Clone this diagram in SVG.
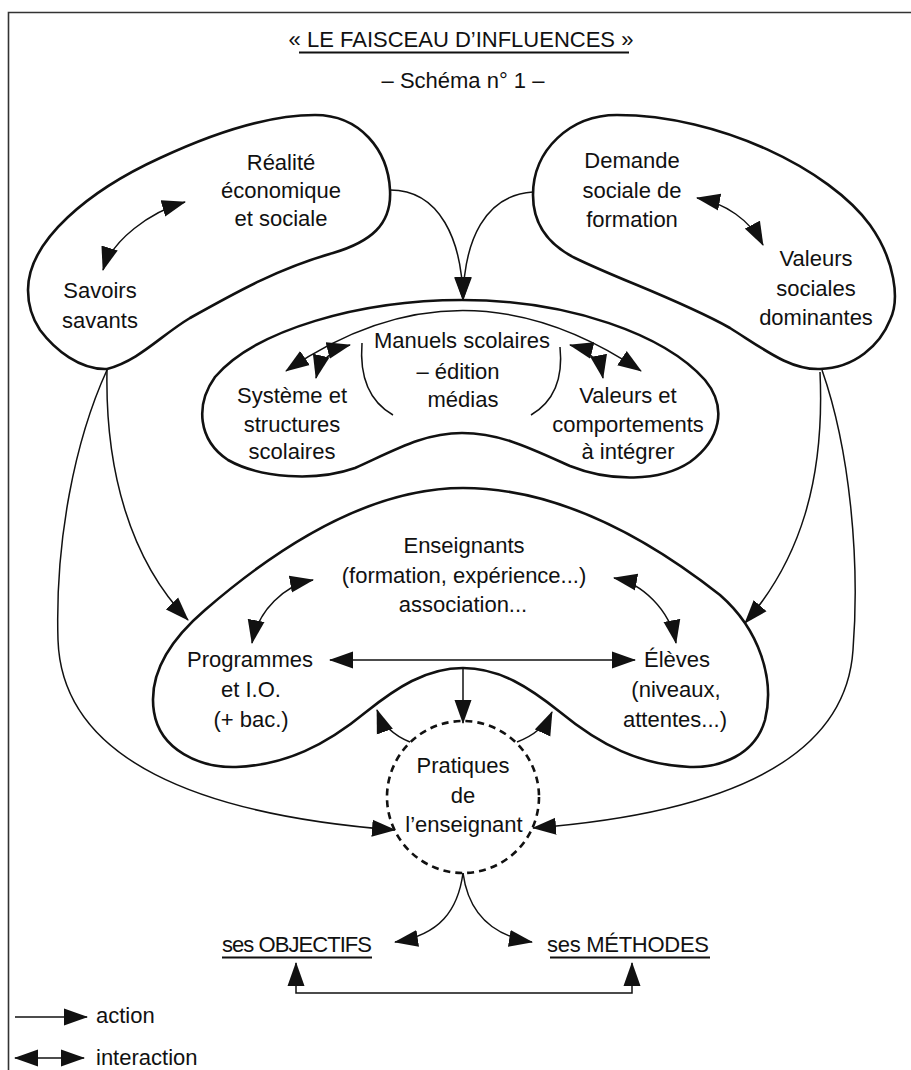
<svg xmlns="http://www.w3.org/2000/svg" width="911" height="1070" viewBox="0 0 911 1070">
<defs>
<marker id="ah" markerUnits="userSpaceOnUse" markerWidth="26" markerHeight="18" refX="23" refY="9" orient="auto-start-reverse" viewBox="0 0 26 18">
<path d="M0,0.5 L24,9 L0,17.5 Z" fill="#111"/>
</marker>
</defs>
<style>
.t{font-family:"Liberation Sans",Arial,sans-serif;font-size:22px;fill:#111;text-anchor:middle}
.blob{fill:none;stroke:#111;stroke-width:2.6}
.c{fill:none;stroke:#111;stroke-width:1.5}
.a{marker-end:url(#ah)}
.i{marker-start:url(#ah);marker-end:url(#ah)}
.ul{stroke:#111;stroke-width:2}
</style>
<rect width="911" height="1070" fill="#fff"/>
<path d="M911,12.5 H8.5 V1070" fill="none" stroke="#333" stroke-width="1.6"/>

<g id="title">
<text class="t" x="461" y="47">« LE FAISCEAU D’INFLUENCES »</text>
<line class="ul" x1="299" y1="52.5" x2="629" y2="52.5"/>
<text class="t" x="463" y="88">– Schéma n° 1 –</text>
</g>

<g id="node-realite">
<path class="blob" d="M28,290 C28,240 90,190 160,158 C220,130 270,115 315,115 C360,115 388,150 390,190 C392,225 370,242 333,253 C280,268 240,290 190,318 C160,336 140,360 107,369 C80,370 55,350 40,330 C32,318 28,303 28,290 Z"/>
<text class="t" x="281" y="170">Réalité</text>
<text class="t" x="281" y="198">économique</text>
<text class="t" x="281" y="226">et sociale</text>
<text class="t" x="100" y="298">Savoirs</text>
<text class="t" x="100" y="328">savants</text>
</g>

<g id="node-demande">
<path class="blob" d="M617,115 C720,115 830,170 870,225 C895,260 900,300 890,320 C880,345 855,368 820,369 C790,370 765,350 730,328 C680,300 620,280 575,258 C545,243 533,220 533,195 C533,150 570,115 617,115 Z"/>
<text class="t" x="632" y="168">Demande</text>
<text class="t" x="632" y="198">sociale de</text>
<text class="t" x="632" y="227">formation</text>
<text class="t" x="816" y="266">Valeurs</text>
<text class="t" x="816" y="296">sociales</text>
<text class="t" x="816" y="325">dominantes</text>
</g>

<g id="node-manuels">
<path class="blob" d="M462,300 C570,300 665,335 705,380 C728,408 720,440 690,462 C660,482 610,482 570,466 C530,448 500,433 462,433 C424,433 395,450 355,468 C315,482 260,478 228,460 C198,440 195,405 215,377 C255,330 360,300 462,300 Z"/>
<text class="t" x="462" y="348">Manuels scolaires</text>
<text class="t" x="458" y="379">– édition</text>
<text class="t" x="463" y="407">médias</text>
<text class="t" x="292" y="403">Système et</text>
<text class="t" x="292" y="432">structures</text>
<text class="t" x="292" y="459">scolaires</text>
<text class="t" x="628" y="403">Valeurs et</text>
<text class="t" x="628" y="432">comportements</text>
<text class="t" x="628" y="459">à intégrer</text>
<path class="c" d="M362,343 Q358,395 393,415"/>
<path class="c" d="M560,347 Q565,395 531,415"/>
</g>

<g id="node-enseignants">
<path class="blob" d="M463,488 C560,488 650,540 720,595 C760,630 775,680 765,720 C755,755 720,768 690,767 C640,765 600,745 560,712 C530,688 500,668 463,668 C426,668 396,688 366,712 C326,745 286,765 236,767 C200,768 160,750 154,712 C148,675 170,640 205,610 C280,545 370,488 463,488 Z"/>
<text class="t" x="464" y="553">Enseignants</text>
<text class="t" x="464" y="583">(formation, expérience...)</text>
<text class="t" x="463" y="612">association...</text>
<text class="t" x="250" y="667">Programmes</text>
<text class="t" x="251" y="697">et I.O.</text>
<text class="t" x="251" y="727">(+ bac.)</text>
<text class="t" x="677" y="667">Élèves</text>
<text class="t" x="676" y="697">(niveaux,</text>
<text class="t" x="675" y="727">attentes...)</text>
</g>

<g id="node-pratiques">
<circle cx="463" cy="797" r="76" fill="none" stroke="#111" stroke-width="2.6" stroke-dasharray="7,5"/>
<text class="t" x="463" y="773">Pratiques</text>
<text class="t" x="463" y="803">de</text>
<text class="t" x="464" y="832">l’enseignant</text>
</g>

<g id="node-objectifs">
<text class="t" x="297" y="952" textLength="150">ses OBJECTIFS</text>
<line class="ul" x1="222" y1="957.5" x2="372" y2="957.5"/>
</g>
<g id="node-methodes">
<text class="t" x="628" y="952" textLength="162">ses MÉTHODES</text>
<line class="ul" x1="550" y1="957.5" x2="710" y2="957.5"/>
</g>

<g id="connectors">
<path class="c a" d="M390,190 C440,190 462,240 463,300"/>
<path class="c a" d="M533,192 C485,195 464,240 463,300"/>
<path class="c i" d="M185,202 C150,212 112,240 103,270"/>
<path class="c i" d="M697,198 C725,203 750,220 763,245"/>
<path class="c i" d="M286,371 Q462,250 641,371"/>
<path class="c i" d="M350,345 Q322,352 316,378"/>
<path class="c i" d="M570,345 Q598,352 603,378"/>
<path class="c a" d="M107,370 C105,470 130,560 188,620"/>
<path class="c a" d="M107,370 C75,440 55,540 58,640 C62,760 200,815 395,830"/>
<path class="c a" d="M820,372 C825,480 800,560 745,623"/>
<path class="c a" d="M822,370 C850,450 860,560 853,650 C845,770 700,815 533,828"/>
<path class="c i" d="M330,660 H635"/>
<path class="c a" d="M463,668 V723"/>
<path class="c i" d="M313,580 C285,585 258,610 252,643"/>
<path class="c i" d="M614,578 C642,583 670,610 676,643"/>
<path class="c a" d="M410,742 Q385,732 377,710"/>
<path class="c a" d="M517,742 Q543,732 552,712"/>
<path class="c a" d="M463,873 C458,910 440,935 395,942"/>
<path class="c a" d="M463,873 C468,910 488,935 532,942"/>
<path class="c i" d="M296,963 V993 H632 V963"/>
</g>

<g id="legend">
<path class="c a" d="M15,1017 H87"/>
<text class="t" x="96" y="1023" style="text-anchor:start">action</text>
<path class="c i" d="M15,1058 H84"/>
<text class="t" x="96" y="1065" style="text-anchor:start">interaction</text>
</g>
</svg>
